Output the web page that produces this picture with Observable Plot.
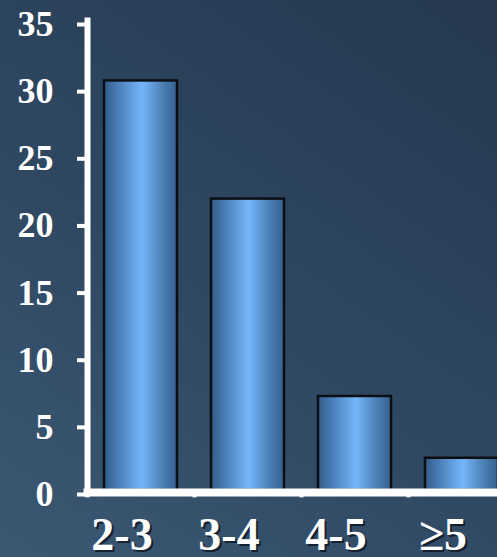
<!DOCTYPE html>
<html>
<head>
<meta charset="utf-8">
<script src="https://cdn.jsdelivr.net/npm/d3@7"></script>
<script src="https://cdn.jsdelivr.net/npm/@observablehq/plot@0.6"></script>
<style>
  html, body { margin: 0; padding: 0; overflow: hidden; }
  body {
    width: 497px; height: 557px;
    background: linear-gradient(35deg, #3b5873 0%, #2f4862 45%, #25384f 100%);
  }
  #chart svg { display: block; background: transparent; }
</style>
</head>
<body>
<div id="chart"></div>
<script>
// Bar categories and their values
const categories = ["2-3", "3-4", "4-5", "≥5"];
const values = [30.5, 21.7, 7, 2.4];
const yTicks = [0, 5, 10, 15, 20, 25, 30, 35];

const data = categories.map((c, i) => ({category: c, value: values[i]}));

const serif = "'Liberation Serif', 'Times New Roman', serif";

const chart = Plot.plot({
  width: 497,
  height: 557,
  marginLeft: 87,
  marginRight: 0,
  marginTop: 20,
  marginBottom: 67,
  style: {background: "transparent", color: "white", fontFamily: serif, overflow: "visible"},
  x: {domain: categories, range: [87, 515], paddingInner: 0.32, paddingOuter: 0.16, axis: null},
  y: {domain: [0, 35], axis: null},
  marks: [
    Plot.barY(data, {
      x: "category", y: "value",
      fill: "url(#barGrad)", stroke: "#0b0f14", strokeWidth: 2.5
    }),
    // axis lines
    Plot.frame({anchor: "left", stroke: "white", strokeWidth: 6, strokeLinecap: "square"}),
    Plot.frame({anchor: "bottom", stroke: "white", strokeWidth: 8, dy: 2}),
    // small nubs under the baseline between categories
    Plot.ruleX(categories, {x: d => d, dx: -53.5, y1: 0, y2: -0.55, stroke: "white", strokeWidth: 4}),
    Plot.axisY({
      ticks: yTicks, label: null, tickSize: 10, tickPadding: 24, strokeWidth: 4,
      fontSize: 36, fontWeight: "bold", fontFamily: serif, fill: "white", dy: 4
    }),
    // category labels with a soft drop shadow
    Plot.text(categories, {
      x: d => d, text: d => d, frameAnchor: "bottom", lineAnchor: "bottom",
      dx: -17, dy: 61, fontSize: 46, fontWeight: "bold", fontFamily: serif, fill: "#0c1420", fillOpacity: 0.8
    }),
    Plot.text(categories, {
      x: d => d, text: d => d, frameAnchor: "bottom", lineAnchor: "bottom",
      dx: -19, dy: 59, fontSize: 46, fontWeight: "bold", fontFamily: serif, fill: "white"
    })
  ]
});

// cylinder-style horizontal shading for the bars
const ns = "http://www.w3.org/2000/svg";
const defs = document.createElementNS(ns, "defs");
const grad = document.createElementNS(ns, "linearGradient");
grad.setAttribute("id", "barGrad");
grad.setAttribute("x1", "0"); grad.setAttribute("x2", "1");
grad.setAttribute("y1", "0"); grad.setAttribute("y2", "0");
[["0%", "#335b88"], ["20%", "#4a7fb9"], ["52%", "#74b6fa"], ["80%", "#4c80b5"], ["100%", "#35608f"]]
  .forEach(([o, c]) => {
    const s = document.createElementNS(ns, "stop");
    s.setAttribute("offset", o); s.setAttribute("stop-color", c);
    grad.appendChild(s);
  });
defs.appendChild(grad);
chart.insertBefore(defs, chart.firstChild);

document.getElementById("chart").appendChild(chart);
</script>
</body>
</html>
